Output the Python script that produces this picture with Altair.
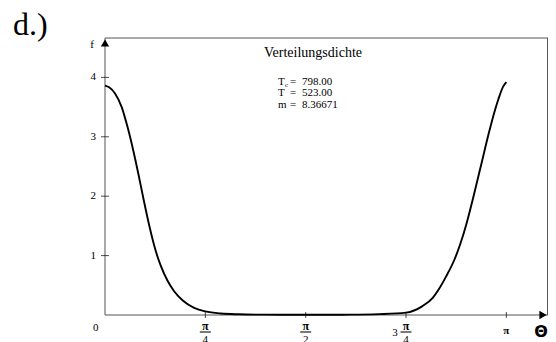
import math
import altair as alt
import pandas as pd

# ---- data ----
theta_deg = [0, 2, 4.5, 7.5, 10, 12.5, 15, 17.5, 20, 22.5, 25, 28, 31, 35, 40, 45, 52, 60, 70, 90,
             110, 123, 135, 142.4, 147, 150, 153, 156.7, 159.3, 162, 165.3, 168.9, 172.4, 174.6,
             176.5, 178.5, 180]
f_vals = [3.86, 3.83, 3.73, 3.50, 3.18, 2.80, 2.37, 1.91, 1.48, 1.11, 0.83, 0.58, 0.40, 0.24, 0.12,
          0.06, 0.025, 0.012, 0.006, 0.004, 0.006, 0.015, 0.04, 0.15, 0.29, 0.45, 0.65, 0.93, 1.19,
          1.52, 2.00, 2.56, 3.10, 3.41, 3.64, 3.84, 3.92]
y_ticks = [1, 2, 3, 4]
x_ticks_pi = [0.25, 0.5, 0.75, 1.0]
frac_pi = [0.25, 0.5, 0.75]
frac_den = ["4", "2", "4"]
title_text = "Verteilungsdichte"
stat_names = ["T", "T", "m"]
stat_values = ["798.00", "523.00", "8.36671"]

SERIF = "Liberation Serif"
AX = "#555555"

W, H = 443, 277
curve = pd.DataFrame({"t": [d * math.pi / 180 for d in theta_deg], "f": f_vals})
xs = alt.Scale(domain=[0, W / 127.75], nice=False, zero=False)
ys = alt.Scale(domain=[0, 4.663], nice=False, zero=False)

line = alt.Chart(curve).mark_line(color="black", strokeWidth=1.9, interpolate="monotone").encode(
    x=alt.X("t:Q", scale=xs, axis=None), y=alt.Y("f:Q", scale=ys, axis=None))

frame_df = pd.DataFrame({"a": [0]})
fb = alt.Chart(frame_df)
left = fb.mark_rule(color=AX, strokeWidth=1).encode(x=alt.value(0), y=alt.value(0), y2=alt.value(H))
bottom = fb.mark_rule(color=AX, strokeWidth=1).encode(x=alt.value(0), x2=alt.value(W), y=alt.value(H))
top = fb.mark_rule(color=AX, strokeWidth=1).encode(x=alt.value(0), x2=alt.value(W), y=alt.value(0))
right = fb.mark_rule(color=AX, strokeWidth=1).encode(x=alt.value(W - 0.5), y=alt.value(0), y2=alt.value(H))
arr_up = fb.mark_point(shape="triangle-up", filled=True, color="black", size=70, opacity=1).encode(
    x=alt.value(0), y=alt.value(5))
arr_right = fb.mark_point(shape="triangle-right", filled=True, color="black", size=70, opacity=1).encode(
    x=alt.value(W - 5), y=alt.value(H))

yt = pd.DataFrame({"v": y_ticks})
ytick = alt.Chart(yt).mark_tick(orient="horizontal", size=8, thickness=1, color="black").encode(
    y=alt.Y("v:Q", scale=ys, axis=None), x=alt.value(0))
ylab = alt.Chart(yt).mark_text(font=SERIF, fontSize=11, align="right", baseline="middle", color="black").encode(
    y=alt.Y("v:Q", scale=ys, axis=None), x=alt.value(-9), text="v:Q")

xt = pd.DataFrame({"t": [p * math.pi for p in x_ticks_pi]})
xtick = alt.Chart(xt).mark_tick(orient="vertical", size=6, thickness=1, color="black").encode(
    x=alt.X("t:Q", scale=xs, axis=None), y=alt.value(H))

fr = pd.DataFrame({"t": [p * math.pi for p in frac_pi], "den": frac_den, "num": ["π"] * 3})
num = alt.Chart(fr).mark_text(font=SERIF, fontSize=12, fontWeight="bold", baseline="middle", color="black").encode(
    x=alt.X("t:Q", scale=xs, axis=None), y=alt.value(288), text="num:N")
bar = alt.Chart(fr).mark_tick(orient="horizontal", size=11, thickness=1.5, color="black").encode(
    x=alt.X("t:Q", scale=xs, axis=None), y=alt.value(294))
den = alt.Chart(fr).mark_text(font=SERIF, fontSize=11, baseline="middle", color="black").encode(
    x=alt.X("t:Q", scale=xs, axis=None), y=alt.value(302), text="den:N")

pi_df = pd.DataFrame({"t": [math.pi], "s": ["π"]})
pi_lab = alt.Chart(pi_df).mark_text(font=SERIF, fontSize=11, fontWeight="bold", baseline="middle", color="black").encode(
    x=alt.X("t:Q", scale=xs, axis=None), y=alt.value(293), text="s:N")
three_df = pd.DataFrame({"t": [0.75 * math.pi], "k": ["3"]})
three = alt.Chart(three_df).mark_text(font=SERIF, fontSize=11, baseline="middle", dx=-11, color="black").encode(
    x=alt.X("t:Q", scale=xs, axis=None), y=alt.value(295), text="k:N")


def txt(s, x, y, size=11, weight="normal", align="left", font=SERIF, baseline="middle"):
    return alt.Chart(pd.DataFrame({"s": [s]})).mark_text(
        font=font, fontSize=size, fontWeight=weight, align=align, baseline=baseline, color="black"
    ).encode(x=alt.value(x), y=alt.value(y), text="s:N")


texts = [
    txt("0", -12, 290),
    txt("f", -13, 7, align="center"),
    txt("Θ", 436, 294, size=16, weight="bold", align="center", font="DejaVu Sans"),
    txt("d.)", -92, -3, size=32, baseline="alphabetic"),
    txt(title_text, 208, 15, size=14, align="center"),
]
ys_stats = [43.5, 55, 66.5]
for i, (n, v) in enumerate(zip(stat_names, stat_values)):
    texts.append(txt(n, 173, ys_stats[i], size=11))
    texts.append(txt("=", 185, ys_stats[i], size=11))
    texts.append(txt(v, 197, ys_stats[i], size=11))
texts.append(txt("c", 180, 46.5, size=7))

chart = alt.layer(left, bottom, top, right, ytick, xtick, line, arr_up, arr_right, ylab, num, bar, den,
                  pi_lab, three, *texts).properties(
    width=W, height=H,
    padding={"left": 97, "top": 30, "right": 0, "bottom": 27},
    autosize=alt.AutoSizeParams(type="none"),
).configure_view(stroke=None)

chart.save("out.html", embed_options={"renderer": "svg", "actions": False})
